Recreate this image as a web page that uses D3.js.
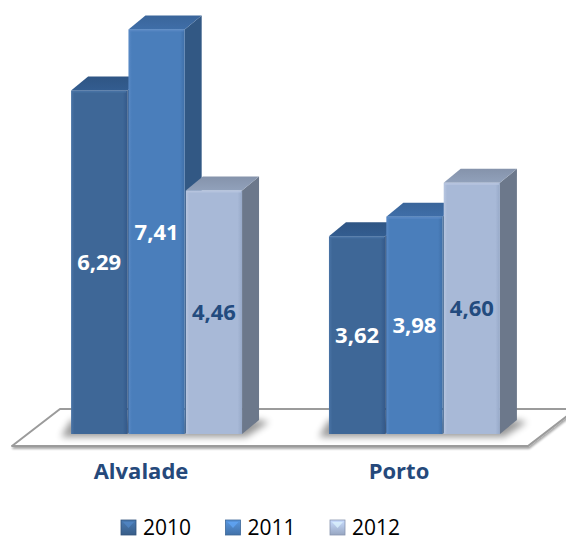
<!DOCTYPE html>
<html>
<head>
<meta charset="utf-8">
<script src="https://cdn.jsdelivr.net/npm/d3@7"></script>
<style>
  html, body { margin: 0; padding: 0; background: #fff; }
  svg { display: block; }
</style>
</head>
<body>
<svg id="chart" width="566" height="541"></svg>
<script>
// Values per site and year
const categories = ["Alvalade", "Porto"];
const series = ["2010", "2011", "2012"];
const values2010 = [6.29, 3.62];
const values2011 = [7.41, 3.98];
const values2012 = [4.46, 4.60];
const valueLabels2010 = ["6,29", "3,62"];
const valueLabels2011 = ["7,41", "3,98"];
const valueLabels2012 = ["4,46", "4,60"];

const seriesValues = [values2010, values2011, values2012];
const seriesLabels = [valueLabels2010, valueLabels2011, valueLabels2012];

// Colours of each series: front, top, side, label text
const palette = [
  { front: "#3e6797", light: "#4a74a6", dark: "#34598a", top: "#2f5584", side: "#2c4e79", text: "#ffffff" },
  { front: "#4a7ebb", light: "#5a8ac6", dark: "#3f6fa8", top: "#3a659a", side: "#325884", text: "#ffffff" },
  { front: "#a8b9d7", light: "#b8c6e0", dark: "#97a9c8", top: "#8593ab", side: "#6c788b", text: "#234b7e" }
];

const W = 566, H = 541;
const svg = d3.select("#chart");
svg.append("rect").attr("width", W).attr("height", H).attr("fill", "#fff");

// Layout of the 3D box
const baseY = 434;          // front bottom of the bars
const depthX = 17, depthY = 14;   // bar depth projection
const floor = { frontY: 446, backY: 409, frontL: 12, frontR: 528, shift: 48 };

const y = d3.scaleLinear().domain([0, 8]).range([baseY, baseY - 8 * 54.6]);
const x0 = d3.scaleBand().domain(categories).range([27.5, 543.5])
  .paddingInner(0.337).paddingOuter(0.169);
const x1 = d3.scaleBand().domain(series).range([0, x0.bandwidth()]).paddingInner(0.02);
const xFloor = d3.scaleBand().domain(categories).range([floor.frontL, floor.frontR]);

const defs = svg.append("defs");

// soft shadow for the floor outline
const fs = defs.append("filter").attr("id", "floorShadow")
  .attr("x", "-5%").attr("y", "-20%").attr("width", "110%").attr("height", "150%");
fs.append("feGaussianBlur").attr("in", "SourceAlpha").attr("stdDeviation", 1.2).attr("result", "b");
fs.append("feOffset").attr("in", "b").attr("dy", 2).attr("dx", 1).attr("result", "o");
fs.append("feComponentTransfer").attr("in", "o").attr("result", "s")
  .append("feFuncA").attr("type", "linear").attr("slope", 0.35);
const fm = fs.append("feMerge");
fm.append("feMergeNode").attr("in", "s");
fm.append("feMergeNode").attr("in", "SourceGraphic");

// blur for the shadows cast by the bars
defs.append("filter").attr("id", "barShadow")
  .attr("x", "-20%").attr("y", "-100%").attr("width", "140%").attr("height", "300%")
  .append("feGaussianBlur").attr("stdDeviation", 3.5);

// bevel-like gradients for front faces
palette.forEach((p, i) => {
  const g = defs.append("linearGradient").attr("id", "front" + i)
    .attr("x1", "0").attr("x2", "1").attr("y1", "0").attr("y2", "0");
  g.append("stop").attr("offset", "0%").attr("stop-color", p.light);
  g.append("stop").attr("offset", "6%").attr("stop-color", p.front);
  g.append("stop").attr("offset", "92%").attr("stop-color", p.front);
  g.append("stop").attr("offset", "100%").attr("stop-color", p.dark);

  const t = defs.append("linearGradient").attr("id", "top" + i)
    .attr("x1", "0").attr("x2", "0").attr("y1", "0").attr("y2", "1");
  t.append("stop").attr("offset", "0%").attr("stop-color", p.top);
  t.append("stop").attr("offset", "100%").attr("stop-color", d3.color(p.top).brighter(0.25));

  const l = defs.append("linearGradient").attr("id", "legend" + i)
    .attr("x1", "0").attr("x2", "0").attr("y1", "0").attr("y2", "1");
  l.append("stop").attr("offset", "0%").attr("stop-color", d3.color(p.front).brighter(0.5));
  l.append("stop").attr("offset", "100%").attr("stop-color", d3.color(p.front).darker(0.3));
});

// Floor
const fl = floor;
svg.append("polygon")
  .attr("points", [
    [fl.frontL, fl.frontY], [fl.frontR, fl.frontY],
    [fl.frontR + fl.shift, fl.backY], [fl.frontL + fl.shift, fl.backY]
  ].map(p => p.join(",")).join(" "))
  .attr("fill", "#fff")
  .attr("stroke", "#9b9b9b")
  .attr("stroke-width", 2)
  .attr("stroke-linejoin", "round")
  .attr("filter", "url(#floorShadow)");

// Shadows cast on the floor by each group of bars
const groups = svg.append("g");
categories.forEach((c, ci) => {
  const gx = x0(c);
  const gw = x0.bandwidth();
  groups.append("polygon")
    .attr("points", [
      [gx - 10, baseY + 3], [gx + gw + 4, baseY + 3],
      [gx + gw + depthX + 10, baseY - depthY + 2], [gx + gw + depthX, baseY - depthY],
      [gx, baseY - depthY]
    ].map(p => p.join(",")).join(" "))
    .attr("fill", "#000")
    .attr("opacity", 0.4)
    .attr("filter", "url(#barShadow)");
});

// Bars, drawn left to right so each front hides the neighbour's side
const bars = svg.append("g");
categories.forEach((c, ci) => {
  series.forEach((s, si) => {
    const v = seriesValues[si][ci];
    const p = palette[si];
    const bx = x0(c) + x1(s);
    const bw = x1.bandwidth();
    const top = y(v);
    const g = bars.append("g");
    // side face
    g.append("polygon")
      .attr("points", [
        [bx + bw, top], [bx + bw + depthX, top - depthY],
        [bx + bw + depthX, baseY - depthY], [bx + bw, baseY]
      ].map(q => q.join(",")).join(" "))
      .attr("fill", p.side);
    // top face
    g.append("polygon")
      .attr("points", [
        [bx, top], [bx + depthX, top - depthY],
        [bx + bw + depthX, top - depthY], [bx + bw, top]
      ].map(q => q.join(",")).join(" "))
      .attr("fill", `url(#top${si})`);
    // front face
    g.append("rect")
      .attr("x", bx).attr("y", top)
      .attr("width", bw).attr("height", baseY - top)
      .attr("fill", `url(#front${si})`);
    // thin highlight along the top edge of the front face
    g.append("rect")
      .attr("x", bx + 1).attr("y", top)
      .attr("width", bw - 2).attr("height", 2)
      .attr("fill", p.light).attr("opacity", 0.8);
  });
});

// Value labels
const labels = svg.append("g")
  .attr("font-family", "'Open Sans', sans-serif")
  .attr("font-weight", 700)
  .attr("font-size", 22)
  .attr("text-anchor", "middle");
categories.forEach((c, ci) => {
  series.forEach((s, si) => {
    const v = seriesValues[si][ci];
    const bx = x0(c) + x1(s);
    const bw = x1.bandwidth();
    labels.append("text")
      .attr("x", bx + bw / 2)
      .attr("y", (y(v) + baseY) / 2 + 8)
      .attr("fill", palette[si].text)
      .text(seriesLabels[si][ci]);
  });
});

// Category axis labels
svg.append("g")
  .attr("font-family", "'Open Sans', sans-serif")
  .attr("font-weight", 700)
  .attr("font-size", 22)
  .attr("fill", "#25497b")
  .attr("text-anchor", "middle")
  .selectAll("text")
  .data(categories)
  .join("text")
  .attr("x", d => xFloor(d) + xFloor.bandwidth() / 2)
  .attr("y", 479)
  .text(d => d);

// Legend
const legendX = d3.scalePoint().domain(series).range([121, 330]);
const legend = svg.append("g");
series.forEach((s, si) => {
  const lx = legendX(s);
  const p = palette[si];
  legend.append("rect")
    .attr("x", lx).attr("y", 520).attr("width", 15).attr("height", 15)
    .attr("fill", `url(#legend${si})`)
    .attr("stroke", d3.color(p.front).darker(0.6)).attr("stroke-width", 0.8);
  legend.append("polygon")
    .attr("points", [[lx + 2, 522], [lx + 13, 522], [lx + 7.5, 528]].map(q => q.join(",")).join(" "))
    .attr("fill", d3.color(p.front).brighter(0.8)).attr("opacity", 0.7);
  legend.append("text")
    .attr("x", lx + 22).attr("y", 535)
    .attr("font-family", "'Open Sans', sans-serif")
    .attr("font-size", 21)
    .attr("fill", "#000")
    .text(s);
});
</script>
</body>
</html>
